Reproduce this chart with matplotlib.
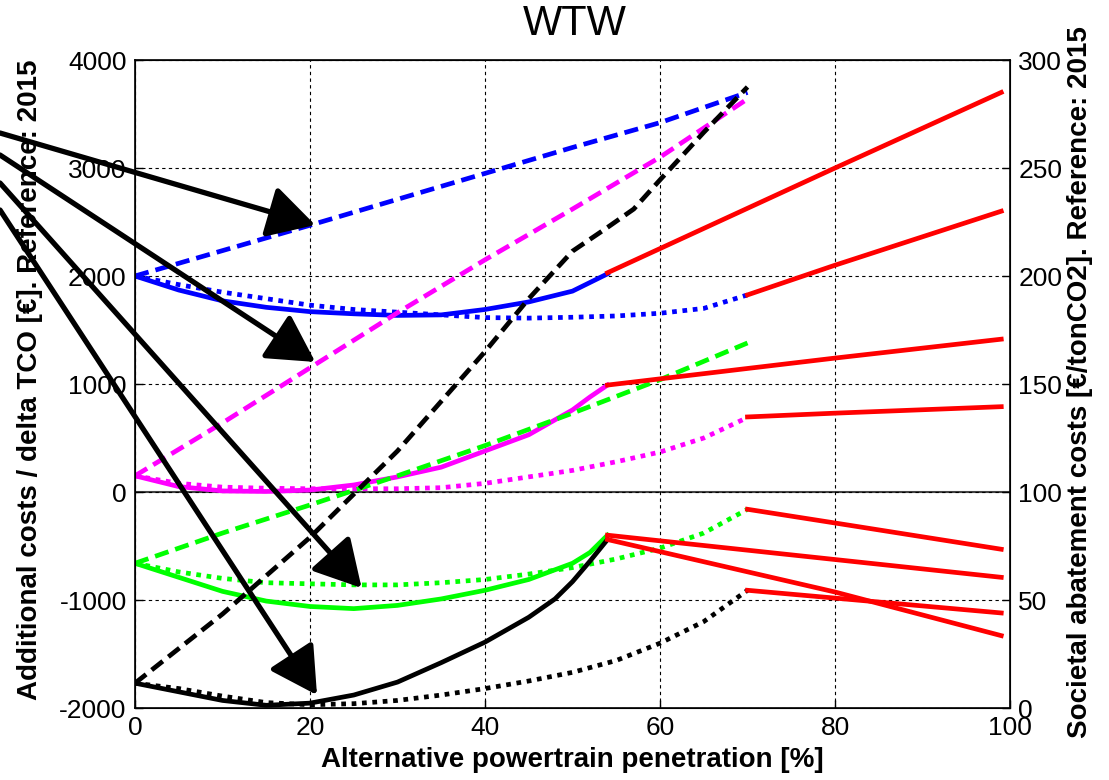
import matplotlib
matplotlib.use("Agg")
import matplotlib.pyplot as plt

plt.rcParams["font.family"] = ["Liberation Sans", "DejaVu Sans"]
plt.rcParams["axes.unicode_minus"] = False

# --- dati (asse sinistro, euro) ---
blu_tratt_x = [0, 10, 20, 30, 40, 50, 60, 70]
blu_tratt_y = [2000, 2235, 2470, 2710, 2950, 3190, 3420, 3700]
blu_pieno_x = [0, 5, 10, 15, 20, 25, 30, 35, 40, 45, 50, 54]
blu_pieno_y = [2000, 1870, 1770, 1710, 1670, 1650, 1635, 1640, 1690, 1760, 1860, 2020]
blu_punt_x = [0, 5, 10, 15, 20, 25, 30, 35, 40, 45, 50, 55, 60, 65, 70]
blu_punt_y = [2000, 1920, 1850, 1790, 1730, 1690, 1665, 1640, 1615, 1610, 1618, 1630, 1655, 1700, 1825]

mag_tratt_x = [0, 10, 20, 30, 40, 50, 60, 70]
mag_tratt_y = [150, 640, 1150, 1660, 2150, 2620, 3100, 3640]
mag_pieno_x = [0, 5, 10, 15, 20, 25, 30, 35, 40, 45, 50, 52, 54]
mag_pieno_y = [150, 50, 10, 5, 18, 65, 140, 230, 380, 530, 760, 880, 990]
mag_punt_x = [0, 5, 10, 15, 20, 30, 35, 40, 45, 50, 55, 60, 65, 70]
mag_punt_y = [150, 80, 45, 35, 30, 30, 40, 80, 140, 200, 280, 370, 500, 690]

ver_tratt_x = [0, 10, 20, 30, 40, 50, 60, 70]
ver_tratt_y = [-660, -380, -120, 150, 430, 730, 1040, 1380]
ver_pieno_x = [0, 5, 10, 15, 20, 25, 30, 35, 40, 45, 50, 52, 54]
ver_pieno_y = [-660, -790, -920, -1010, -1060, -1080, -1050, -990, -910, -810, -660, -560, -400]
ver_punt_x = [0, 5, 10, 15, 20, 25, 30, 35, 40, 45, 50, 55, 60, 65, 70]
ver_punt_y = [-660, -740, -800, -840, -850, -860, -860, -840, -810, -760, -700, -620, -520, -380, -160]

ner_tratt_x = [0, 10, 20, 30, 40, 45, 50, 54, 57, 60, 65, 70]
ner_tratt_y = [-1770, -1130, -420, 380, 1300, 1790, 2230, 2450, 2620, 2890, 3330, 3750]
ner_pieno_x = [0, 5, 10, 15, 20, 25, 30, 35, 40, 45, 48, 50, 52, 54]
ner_pieno_y = [-1770, -1850, -1930, -1975, -1955, -1880, -1760, -1580, -1390, -1160, -990, -830, -640, -440]
ner_punt_x = [0, 5, 10, 15, 20, 25, 30, 35, 40, 45, 50, 55, 60, 65, 70]
ner_punt_y = [-1770, -1820, -1890, -1950, -1970, -1960, -1930, -1880, -1820, -1750, -1670, -1560, -1400, -1200, -910]

# segmenti rossi (prolungamenti)
rossi_x = [[54, 80, 99], [70, 80, 99], [54, 80, 99], [70, 80, 99],
           [70, 80, 99], [54, 99], [54, 80, 99], [70, 99]]
rossi_y = [[2030, 3000, 3700], [1825, 2100, 2600], [990, 1240, 1415], [695, 730, 790],
           [-160, -287, -530], [-400, -790], [-440, -926, -1330], [-910, -1120]]

# frecce: punta in dati, coda in pixel figura (dall'alto)
frecce_punta = [(20.6, 2472), (20.6, 1204), (25.9, -889), (20.8, -1880)]
frecce_coda = [(0, 133), (0, 155), (0, 183), (0, 210)]

W, H = 1109, 780
fig = plt.figure(figsize=(W / 100, H / 100), dpi=100)
ax = fig.add_axes([135 / W, 1 - 708 / H, 875 / W, 648 / H])

LW = 3.4
tratt = dict(linestyle=(0, (3, 1.5)), linewidth=LW)
punt = dict(linestyle=(0, (1, 1.2)), linewidth=LW)
pieno = dict(linestyle="-", linewidth=LW)

ax.axhline(0, color="#444444", linewidth=1.5, zorder=1)

ax.plot(blu_tratt_x, blu_tratt_y, color="blue", **tratt)
ax.plot(blu_pieno_x, blu_pieno_y, color="blue", **pieno)
ax.plot(blu_punt_x, blu_punt_y, color="blue", **punt)
ax.plot(mag_tratt_x, mag_tratt_y, color="magenta", **tratt)
ax.plot(mag_pieno_x, mag_pieno_y, color="magenta", **pieno)
ax.plot(mag_punt_x, mag_punt_y, color="magenta", **punt)
ax.plot(ver_tratt_x, ver_tratt_y, color="lime", **tratt)
ax.plot(ver_pieno_x, ver_pieno_y, color="lime", **pieno)
ax.plot(ver_punt_x, ver_punt_y, color="lime", **punt)
ax.plot(ner_tratt_x, ner_tratt_y, color="black", **tratt)
ax.plot(ner_pieno_x, ner_pieno_y, color="black", **pieno)
ax.plot(ner_punt_x, ner_punt_y, color="black", **punt)
for xs, ys in zip(rossi_x, rossi_y):
    ax.plot(xs, ys, color="red", **pieno)

ax.set_xlim(0, 100)
ax.set_ylim(-2000, 4000)
ax.set_xticks(range(0, 101, 20))
ax.set_yticks(range(-2000, 4001, 1000))
ax.grid(True, color="black", linestyle=(0, (3, 3)), linewidth=0.8)
ax.tick_params(direction="in", length=6, labelsize=19, width=1, pad=6)
for s in ax.spines.values():
    s.set_linewidth(1.2)

ax2 = ax.twinx()
ax2.set_ylim(0, 300)
ax2.set_yticks(range(0, 301, 50))
ax2.tick_params(direction="in", length=6, labelsize=19, width=1, pad=6)

ax.set_xlabel("Alternative powertrain penetration [%]", fontsize=20, fontweight="bold", labelpad=5)
fig.text(30 / W, 1 - 380 / H, "Additional costs / delta TCO [€]. Reference: 2015",
         rotation=90, ha="center", va="center", fontsize=20, fontweight="bold")
fig.text(1080 / W, 1 - 382 / H, "Societal abatement costs [€/tonCO2]. Reference: 2015",
         rotation=90, ha="center", va="center", fontsize=20, fontweight="bold")
fig.text(0.518, 1 - 24 / H, "WTW", ha="center", va="center", fontsize=30)

for punta, coda in zip(frecce_punta, frecce_coda):
    ax.annotate("", xy=punta, xycoords="data",
                xytext=(coda[0] / W, 1 - coda[1] / H), textcoords="figure fraction",
                arrowprops=dict(arrowstyle="-|>,head_length=0.9,head_width=0.5",
                                color="black", lw=3.8, mutation_scale=32,
                                shrinkA=0, shrinkB=0),
                annotation_clip=False, zorder=10)

fig.savefig("out.png", dpi=100)
